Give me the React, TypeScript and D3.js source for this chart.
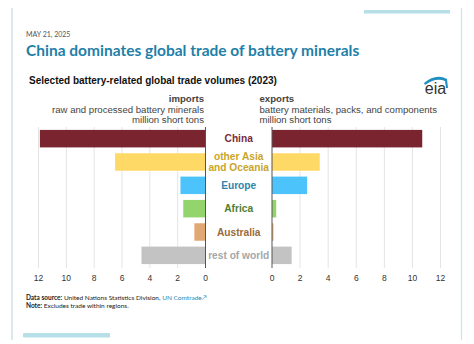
import React from "react";
import * as d3 from "d3";

const regions = ["China", "other Asia and Oceania", "Europe", "Africa", "Australia", "rest of world"];
const labelLines = [["China"], ["other Asia", "and Oceania"], ["Europe"], ["Africa"], ["Australia"], ["rest of world"]];
const imports = [11.9, 6.5, 1.8, 1.6, 0.8, 4.6];
const exports = [10.7, 3.4, 2.5, 0.3, 0.1, 1.4];
const ticks = [0, 2, 4, 6, 8, 10, 12];
const barColors = ["#7a2430", "#ffd966", "#4cc4fb", "#93d46d", "#e2a874", "#c3c3c3"];
const labelColors = ["#7a2a3c", "#c9a52b", "#2f86ad", "#4f7d2f", "#9b6b3c", "#a6a6a6"];

export default function App() {
  const W = 474, H = 344;
  const xL = d3.scaleLinear().domain([0, 12]).range([205.5, 38.5]);
  const xR = d3.scaleLinear().domain([0, 12]).range([272, 440.5]);
  const y = d3.scaleBand().domain(regions).range([127, 267]).paddingInner(0.25).paddingOuter(0.125);
  const gTop = 127, gBot = 268;
  const sans = "'Liberation Sans', Arial, sans-serif";
  const geo = "Lato, 'Noto Sans', sans-serif";
  return (
    <div style={{ position: "absolute", left: 0, top: 0, width: W, height: H }}>
      <svg width={W} height={H} style={{ display: "block" }}>
        <rect x={0} y={0} width={W} height={H} fill="#ffffff" />
        <line x1={12} x2={12} y1={8} y2={340} stroke="#b9d3dc" strokeWidth={1} />
        <line x1={461.5} x2={461.5} y1={8} y2={340} stroke="#cfe4ea" strokeWidth={1.2} />
        <rect x={364} y={10} width={86} height={3.5} fill="#b6dfe8" />
        <rect x={23} y={333} width={87} height={4.5} rx={1} fill="#b6dfe8" />
        <text x={26} y={37} fontFamily={geo} fontSize={7} fill="#555">MAY 21, 2025</text>
        <text x={26} y={56} fontFamily={geo} fontSize={15.5} fontWeight={700} fill="#1f7fa8">China dominates global trade of battery minerals</text>
        <text x={29} y={84} fontFamily={sans} fontSize={10} fontWeight={700} fill="#111">Selected battery-related global trade volumes (2023)</text>
        {/* eia logo */}
        <g>
          <text x={435.5} y={94} textAnchor="middle" fontFamily={sans} fontSize={16} fill="#333">eia</text>
          <path d="M424,83 Q436,73 447,79 L448,88 L446,88 L445,81 Q436,77 425,85 Z" fill="#1f8fc0" />
        </g>
        <text x={204} y={102} textAnchor="end" fontFamily={sans} fontSize={9.6} fontWeight={700} fill="#444">imports</text>
        <text x={204} y={113} textAnchor="end" fontFamily={sans} fontSize={9.6} fill="#444">raw and processed battery minerals</text>
        <text x={204} y={123} textAnchor="end" fontFamily={sans} fontSize={9.6} fill="#444">million short tons</text>
        <text x={259.5} y={102} fontFamily={sans} fontSize={9.6} fontWeight={700} fill="#444">exports</text>
        <text x={259.5} y={113} fontFamily={sans} fontSize={9.6} fill="#444">battery materials, packs, and components</text>
        <text x={259.5} y={123} fontFamily={sans} fontSize={9.6} fill="#444">million short tons</text>
        {ticks.map((t) => (
          <g key={"g" + t}>
            {t > 0 && <line x1={xL(t)} x2={xL(t)} y1={gTop} y2={gBot} stroke="#e4e4e4" />}
            {t > 0 && <line x1={xR(t)} x2={xR(t)} y1={gTop} y2={gBot} stroke="#e4e4e4" />}
            <text x={xL(t)} y={281} textAnchor="middle" fontFamily={sans} fontSize={8.5} fill="#333">{t}</text>
            <text x={xR(t)} y={281} textAnchor="middle" fontFamily={sans} fontSize={8.5} fill="#333">{t}</text>
          </g>
        ))}
        {regions.map((r, i) => (
          <g key={r}>
            <rect x={xL(imports[i])} y={y(r)} width={xL(0) - xL(imports[i])} height={y.bandwidth()} fill={barColors[i]} />
            <rect x={xR(0)} y={y(r)} width={xR(exports[i]) - xR(0)} height={y.bandwidth()} fill={barColors[i]} />
            {labelLines[i].map((ln, j) => (
              <text key={j} x={238.7} y={(y(r) as number) + y.bandwidth() / 2 + 3.6 + (j - (labelLines[i].length - 1) / 2) * 11.5}
                textAnchor="middle" fontFamily={sans} fontSize={10.2} fontWeight={700} fill={labelColors[i]}>{ln}</text>
            ))}
          </g>
        ))}
        <line x1={xL(0)} x2={xL(0)} y1={gTop} y2={gBot} stroke="#555" />
        <line x1={xR(0)} x2={xR(0)} y1={gTop} y2={gBot} stroke="#555" />
        <text x={26} y={300} fontFamily={geo} fontSize={6.5} fill="#222">
          <tspan fontWeight={700}>Data source:</tspan> United Nations Statistics Division, <tspan fill="#2f86ad">UN Comtrade↗</tspan>
        </text>
        <text x={26} y={308} fontFamily={geo} fontSize={6.5} fill="#222">
          <tspan fontWeight={700}>Note:</tspan> Excludes trade within regions.
        </text>
      </svg>
    </div>
  );
}
